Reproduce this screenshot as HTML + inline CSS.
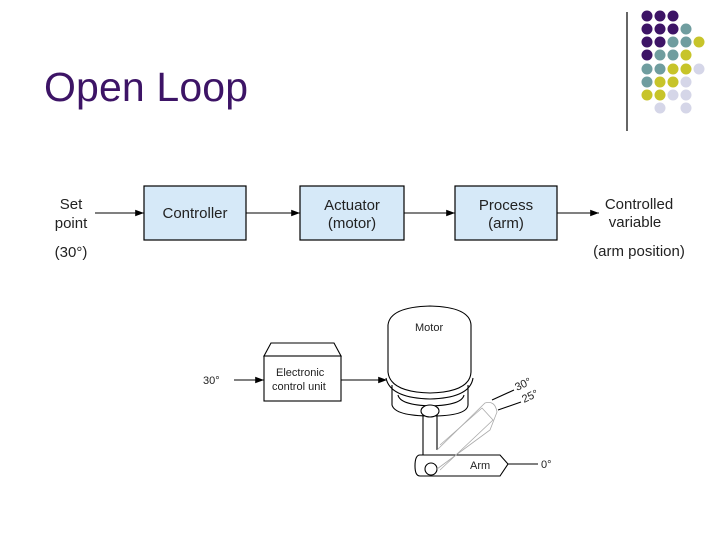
<!DOCTYPE html>
<html><head><style>
html,body{margin:0;padding:0;background:#fff;}
svg{display:block;}
</style></head><body>
<svg width="720" height="540" viewBox="0 0 720 540" xmlns="http://www.w3.org/2000/svg" font-family="Liberation Sans, sans-serif">
<text x="44" y="101" font-size="41" fill="#3d1466" textLength="204">Open Loop</text>
<line x1="627" y1="12" x2="627" y2="131" stroke="#000" stroke-width="1.2"/>
<g>
<circle cx="647" cy="16" r="5.5" fill="#3d1466"/><circle cx="660" cy="16" r="5.5" fill="#3d1466"/><circle cx="673" cy="16" r="5.5" fill="#3d1466"/>
<circle cx="647" cy="29" r="5.5" fill="#3d1466"/><circle cx="660" cy="29" r="5.5" fill="#3d1466"/><circle cx="673" cy="29" r="5.5" fill="#3d1466"/><circle cx="686" cy="29" r="5.5" fill="#6f9d9f"/>
<circle cx="647" cy="42" r="5.5" fill="#3d1466"/><circle cx="660" cy="42" r="5.5" fill="#3d1466"/><circle cx="673" cy="42" r="5.5" fill="#6f9d9f"/><circle cx="686" cy="42" r="5.5" fill="#6f9d9f"/><circle cx="699" cy="42" r="5.5" fill="#c7c42a"/>
<circle cx="647" cy="55" r="5.5" fill="#3d1466"/><circle cx="660" cy="55" r="5.5" fill="#6f9d9f"/><circle cx="673" cy="55" r="5.5" fill="#6f9d9f"/><circle cx="686" cy="55" r="5.5" fill="#c7c42a"/>
<circle cx="647" cy="69" r="5.5" fill="#6f9d9f"/><circle cx="660" cy="69" r="5.5" fill="#6f9d9f"/><circle cx="673" cy="69" r="5.5" fill="#c7c42a"/><circle cx="686" cy="69" r="5.5" fill="#c7c42a"/><circle cx="699" cy="69" r="5.5" fill="#d5d6e8"/>
<circle cx="647" cy="82" r="5.5" fill="#6f9d9f"/><circle cx="660" cy="82" r="5.5" fill="#c7c42a"/><circle cx="673" cy="82" r="5.5" fill="#c7c42a"/><circle cx="686" cy="82" r="5.5" fill="#d5d6e8"/>
<circle cx="647" cy="95" r="5.5" fill="#c7c42a"/><circle cx="660" cy="95" r="5.5" fill="#c7c42a"/><circle cx="673" cy="95" r="5.5" fill="#d5d6e8"/><circle cx="686" cy="95" r="5.5" fill="#d5d6e8"/>
<circle cx="660" cy="108" r="5.5" fill="#d5d6e8"/><circle cx="686" cy="108" r="5.5" fill="#d5d6e8"/>
</g>
<defs><marker id="a" markerWidth="8" markerHeight="6" refX="8" refY="3" orient="auto"><path d="M0,0 L8,3 L0,6z" fill="#000"/></marker></defs>
<g font-size="15" fill="#222" text-anchor="middle">
<text x="71" y="209">Set</text><text x="71" y="228">point</text><text x="71" y="257">(30°)</text>
<rect x="144" y="186" width="102" height="54" fill="#d6e9f8" stroke="#000" stroke-width="1.2"/>
<text x="195" y="218">Controller</text>
<rect x="300" y="186" width="104" height="54" fill="#d6e9f8" stroke="#000" stroke-width="1.2"/>
<text x="352" y="210">Actuator</text><text x="352" y="228">(motor)</text>
<rect x="455" y="186" width="102" height="54" fill="#d6e9f8" stroke="#000" stroke-width="1.2"/>
<text x="506" y="210">Process</text><text x="506" y="228">(arm)</text>
<text x="639" y="209">Controlled</text><text x="635" y="227">variable</text><text x="639" y="256">(arm position)</text>
</g>
<g stroke="#000" stroke-width="1.1" marker-end="url(#a)">
<line x1="95" y1="213" x2="144" y2="213"/><line x1="246" y1="213" x2="300" y2="213"/>
<line x1="404" y1="213" x2="455" y2="213"/><line x1="557" y1="213" x2="599" y2="213"/>
</g>
<g fill="none" stroke="#000" stroke-width="1.1">
<path d="M264,356 L271,343 L334,343 L341,356 Z" fill="#fff"/>
<rect x="264" y="356" width="77" height="45" fill="#fff"/>
<line x1="234" y1="380" x2="264" y2="380" marker-end="url(#a)"/>
<line x1="341" y1="380" x2="387" y2="380" marker-end="url(#a)"/>
<path d="M388,372 L388,325 Q390,307 430,306 Q470,307 471,325 L471,372"/>
<path d="M388,372 Q390,392 430,393 Q470,392 471,372"/>
<path d="M386,378 Q390,398 430,399 Q470,398 473,378"/>
<path d="M392,385 L392,405 Q395,416 431,416 Q467,416 468,405 L468,385"/>
<path d="M398,395 Q400,405 431,406 Q462,405 464,395" />
<path d="M423,411 L423,455 M437,411 L437,450"/>
<ellipse cx="430" cy="411" rx="9" ry="6" fill="#fff"/>
<path d="M420,455 L500,455 L508,464 L500,476 L420,476 Q415,476 415,466 Q415,455 420,455Z" fill="#fff"/>
<circle cx="431" cy="469" r="6" fill="#fff"/>
<line x1="508" y1="464" x2="538" y2="464"/>
<line x1="492" y1="400" x2="514" y2="390"/><line x1="498" y1="410" x2="521" y2="402"/>
</g>
<g fill="none" stroke="#aaa" stroke-width="0.8">
<path d="M437,450 L485,403 Q495,400 497,412 L490,430 L437,469"/>
<path d="M440,445 L482,408 L493,420 L440,470"/>
</g>
<g font-size="11" fill="#222">
<text x="415" y="331">Motor</text>
<text x="276" y="376">Electronic</text><text x="272" y="390">control unit</text>
<text x="203" y="384">30°</text>
<text x="470" y="469">Arm</text>
<text x="541" y="468">0°</text>
<text x="517" y="391" transform="rotate(-25 517 391)">30°</text>
<text x="524" y="403" transform="rotate(-25 524 403)">25°</text>
</g>
</svg>
</body></html>
